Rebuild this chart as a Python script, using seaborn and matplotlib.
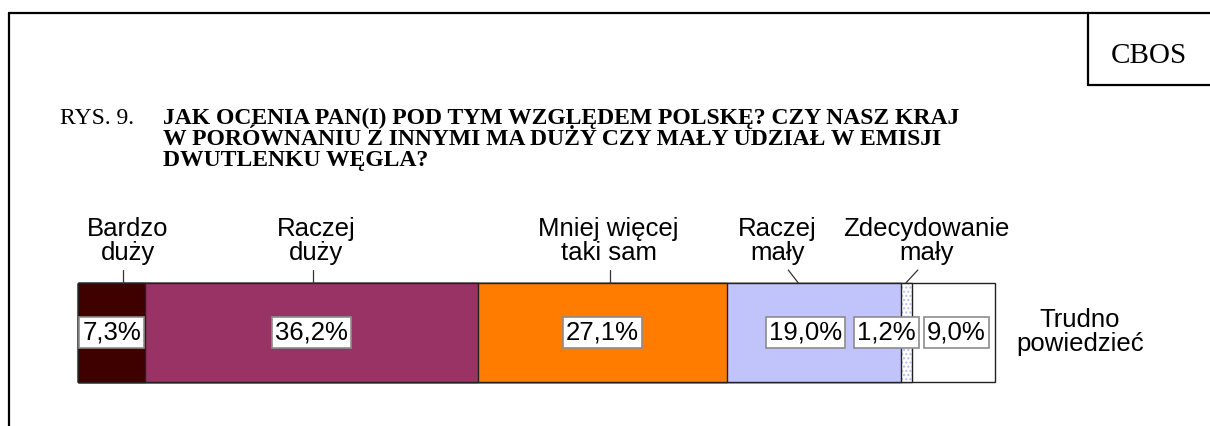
import matplotlib
matplotlib.use("Agg")
import matplotlib.pyplot as plt
from matplotlib.lines import Line2D
import matplotlib.transforms as mtransforms
import seaborn as sns
import pandas as pd

# data
categories = ["Bardzo\nduży", "Raczej\nduży", "Mniej więcej\ntaki sam",
              "Raczej\nmały", "Zdecydowanie\nmały", "Trudno\npowiedzieć"]
values = [7.3, 36.2, 27.1, 19.0, 1.2, 9.0]
value_labels = ["7,3%", "36,2%", "27,1%", "19,0%", "1,2%", "9,0%"]

title_lines = ["JAK OCENIA PAN(I) POD TYM WZGLĘDEM POLSKĘ? CZY NASZ KRAJ",
               "W PORÓWNANIU Z INNYMI MA DUŻY CZY MAŁY UDZIAŁ W EMISJI",
               "DWUTLENKU WĘGLA?"]

# styles
colors = ["#3F0000", "#993366", "#FF7C00", "#C0C4FA", "#FFFFFF", "#FFFFFF"]
pct_dx = [0, 0, 0, -0.9, -2.2, 0.3]          # nudges so boxes don't collide
text_dx = [1.8, 0.5, 0.7, -4.0, 2.1, 0]       # category label offsets from mid
lead_top_dx = [1.25, 0.2, 0.9, -2.8, 1.2, 0]
lead_bot_dx = [1.25, 0.2, 0.9, -1.7, -0.1, 0]

W, H = 1210, 426
sns.set_theme(style="white")
plt.rcParams['font.family'] = ['Liberation Sans', 'DejaVu Sans']
plt.rcParams['text.color'] = 'black'

df = pd.DataFrame({"cat": categories, "value": values, "label": value_labels})
df["cum"] = df["value"].cumsum()
df["mid"] = df["cum"] - df["value"] / 2
total = df["cum"].iloc[-1]

fig = plt.figure(figsize=(W / 100, H / 100), dpi=100)
fig.patch.set_facecolor("white")
ax = fig.add_axes([78 / W, 1 - 382 / H, 917 / W, 99 / H])

edge = "#222222"
# stacked bar: draw cumulative bars from the widest down
for i in range(len(df) - 1, -1, -1):
    row = df.iloc[i]
    one = pd.DataFrame({"x": [row["cum"]], "y": ["s"]})
    if i == 4:
        sns.barplot(data=one, x="x", y="y", orient="h", width=1.0, ax=ax,
                    color="white", edgecolor="#B8BCF2", linewidth=0,
                    hatch="....", saturation=1)
        sns.barplot(data=one, x="x", y="y", orient="h", width=1.0, ax=ax,
                    fill=False, edgecolor=edge, linewidth=1.0)
    else:
        sns.barplot(data=one, x="x", y="y", orient="h", width=1.0, ax=ax,
                    color=colors[i], edgecolor=edge, linewidth=1.0,
                    saturation=1)

ax.set_xlim(0, total)
ax.set_ylim(0.5, -0.5)
ax.axis("off")
for p in ax.patches:
    p.set_clip_on(False)

# percentage boxes
for i, row in df.iterrows():
    ax.text(row["mid"] + pct_dx[i], 0, row["label"], ha="center", va="center",
            fontsize=18.5, color="black",
            bbox=dict(boxstyle="square,pad=0.12", fc="white", ec="#8C8C8C", lw=1.2))

# category labels with leader lines
blend = mtransforms.blended_transform_factory(ax.transData, fig.transFigure)
blend_ax = mtransforms.blended_transform_factory(ax.transData, ax.transAxes)
for i, row in df.iterrows():
    if i == len(df) - 1:
        continue
    ax.text(row["mid"] + text_dx[i], 1 - 241 / H, row["cat"], transform=blend,
            ha="center", va="center", fontsize=18.5, linespacing=1.05)
    ax.plot([row["mid"] + lead_top_dx[i], row["mid"] + lead_bot_dx[i]],
            [1 + 13 / 99, 1.0], transform=blend_ax, color="#333333",
            lw=0.9, clip_on=False)

fig.text(1080 / W, 1 - 332 / H, categories[-1], ha="center", va="center",
         fontsize=18.5, linespacing=1.05)

# title
fig.text(60 / W, 1 - 124 / H, "RYS. 9.", family="Liberation Serif",
         fontsize=17, va="baseline", ha="left")
for y, line in zip([124, 145, 166], title_lines):
    fig.text(163 / W, 1 - y / H, line, family="Liberation Serif",
             fontsize=17, weight="bold", va="baseline", ha="left")

# frame and CBOS box
lw = 1.6
fig.add_artist(Line2D([9 / W, 1], [1 - 13 / H, 1 - 13 / H], color="black", lw=lw))
fig.add_artist(Line2D([9 / W, 9 / W], [0, 1 - 13 / H], color="black", lw=lw))
fig.add_artist(Line2D([1088 / W, 1088 / W], [1 - 85 / H, 1 - 13 / H], color="black", lw=lw))
fig.add_artist(Line2D([1088 / W, 1], [1 - 85 / H, 1 - 85 / H], color="black", lw=lw))
fig.text(1149 / W, 1 - 56 / H, "CBOS", family="Liberation Serif", fontsize=21,
         ha="center", va="center")

fig.savefig("out.png", dpi=100, facecolor="white")
